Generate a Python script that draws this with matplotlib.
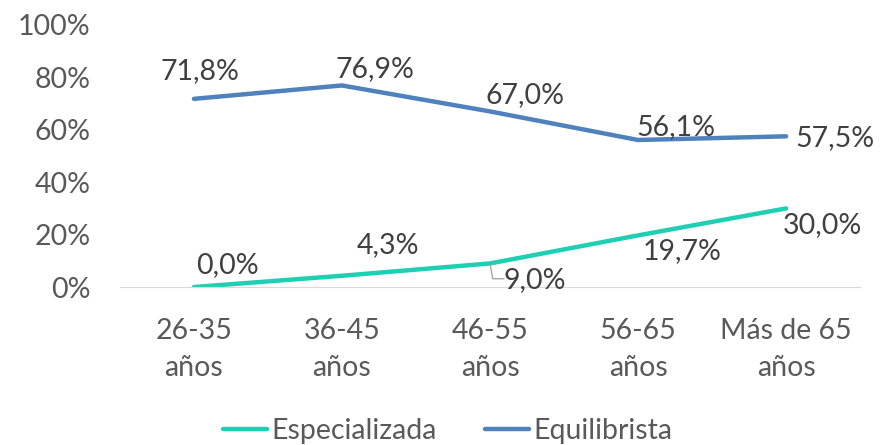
import matplotlib.pyplot as plt
from matplotlib.ticker import FuncFormatter

plt.rcParams['font.family'] = ['Lato', 'DejaVu Sans']

categories = ['26-35\naños', '36-45\naños', '46-55\naños', '56-65\naños', 'Más de 65\naños']
especializada = [0.0, 4.3, 9.0, 19.7, 30.0]
equilibrista = [71.8, 76.9, 67.0, 56.1, 57.5]

teal = '#1FCFB4'
blue = '#4F81BD'
grey = '#595959'

# label offsets in points, per series
esp_offsets = [(24, 16), (33, 22), (32, -12), (32, -11), (26, -12)]
equ_offsets = [(4, 20), (24, 12), (25, 12), (27, 9), (35, -1)]

fig = plt.figure(figsize=(8.95, 4.45), dpi=100)
ax = fig.add_axes([0.134, 0.355, 0.827, 0.589])

x = list(range(len(categories)))
ax.plot(x, especializada, color=teal, lw=3.2, solid_capstyle='round', label='Especializada')
ax.plot(x, equilibrista, color=blue, lw=3.2, solid_capstyle='round', label='Equilibrista')

fs = 20.5
for xi, v, off in zip(x, especializada, esp_offsets):
    ax.annotate(f'{v:.1f}%'.replace('.', ','), (xi, v), xytext=off, textcoords='offset points',
                ha='center', va='center', fontsize=fs, color='#404040')
for xi, v, off in zip(x, equilibrista, equ_offsets):
    ax.annotate(f'{v:.1f}%'.replace('.', ','), (xi, v), xytext=off, textcoords='offset points',
                ha='center', va='center', fontsize=fs, color='#404040')

# leader line for 9,0%
ax.annotate('', (2, especializada[2]), xytext=(10, -11), textcoords='offset points',
            arrowprops=dict(arrowstyle='-', color='#A6A6A6', lw=1, shrinkA=0, shrinkB=1,
                            connectionstyle='angle,angleA=0,angleB=100,rad=0'))

ax.set_xlim(-0.5, 4.5)
ax.set_ylim(0, 100)
ax.set_yticks(range(0, 101, 20))
ax.yaxis.set_major_formatter(FuncFormatter(lambda v, p: f'{v:.0f}%'))
ax.set_xticks(x)
ax.set_xticklabels(categories, linespacing=1.55)
ax.tick_params(length=0, labelsize=fs, colors=grey)
ax.tick_params(axis='x', pad=22)
ax.tick_params(axis='y', pad=21)
for s in ['top', 'right', 'left']:
    ax.spines[s].set_visible(False)
ax.spines['bottom'].set_color('#D9D9D9')

fig.legend(loc='lower center', bbox_to_anchor=(0.5, -0.055), ncol=2, frameon=False,
           fontsize=fs, labelcolor=grey, handlelength=1.55, handletextpad=0.15, columnspacing=1.7)

fig.savefig('out.png', dpi=100)
